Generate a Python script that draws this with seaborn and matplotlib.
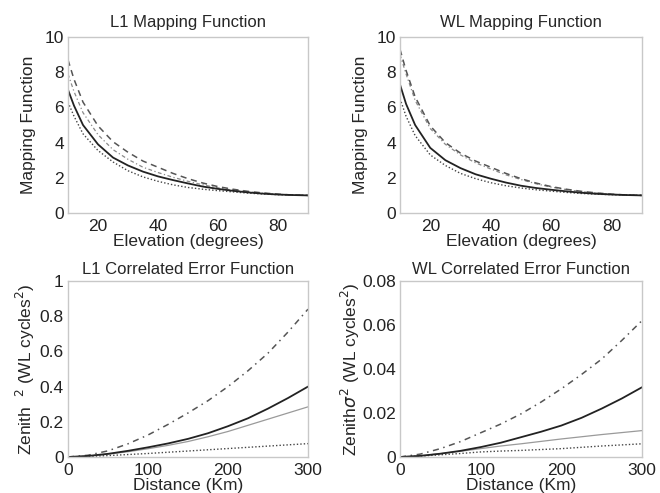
import matplotlib
matplotlib.use("Agg")
import matplotlib.pyplot as plt
import seaborn as sns
from matplotlib.ticker import FuncFormatter

# ---------------- data ----------------
elev = [10, 12, 15, 20, 25, 30, 35, 40, 45, 50, 55, 60, 65, 70, 75, 80, 85, 90]

l1_map_solid   = [7.0, 6.1, 5.0, 3.9, 3.15, 2.7, 2.35, 2.08, 1.87, 1.68, 1.5, 1.37, 1.26, 1.17, 1.1, 1.05, 1.02, 1.0]
l1_map_dash    = [8.7, 7.6, 6.3, 4.95, 4.05, 3.45, 2.95, 2.6, 2.25, 1.95, 1.7, 1.5, 1.35, 1.23, 1.14, 1.07, 1.02, 1.0]
l1_map_dashdot = [7.9, 6.9, 5.7, 4.45, 3.6, 3.05, 2.6, 2.3, 2.03, 1.8, 1.6, 1.43, 1.3, 1.2, 1.12, 1.06, 1.02, 1.0]
l1_map_dot     = [6.3, 5.5, 4.5, 3.55, 2.9, 2.4, 2.05, 1.8, 1.6, 1.45, 1.35, 1.27, 1.2, 1.13, 1.08, 1.04, 1.02, 1.0]

wl_map_solid   = [7.3, 6.2, 5.0, 3.7, 3.0, 2.55, 2.2, 1.95, 1.73, 1.55, 1.42, 1.32, 1.23, 1.15, 1.09, 1.05, 1.02, 1.0]
wl_map_dash    = [9.3, 8.1, 6.6, 4.95, 4.0, 3.4, 2.95, 2.6, 2.25, 1.95, 1.7, 1.5, 1.35, 1.23, 1.14, 1.07, 1.02, 1.0]
wl_map_dashdot = [9.0, 7.9, 6.4, 4.8, 3.9, 3.3, 2.85, 2.5, 2.17, 1.9, 1.66, 1.47, 1.33, 1.21, 1.13, 1.06, 1.02, 1.0]
wl_map_dot     = [6.5, 5.5, 4.4, 3.3, 2.7, 2.25, 1.95, 1.72, 1.55, 1.42, 1.32, 1.24, 1.17, 1.11, 1.07, 1.04, 1.02, 1.0]

dist = [0, 25, 50, 75, 100, 125, 150, 175, 200, 225, 250, 275, 300]

l1_err_solid = [0.0, 0.006, 0.018, 0.035, 0.055, 0.077, 0.103, 0.135, 0.175, 0.22, 0.275, 0.335, 0.40]
l1_err_dash  = [0.0, 0.01, 0.035, 0.075, 0.125, 0.185, 0.25, 0.32, 0.40, 0.49, 0.59, 0.71, 0.84]
l1_err_gray  = [0.0, 0.005, 0.016, 0.03, 0.047, 0.066, 0.088, 0.115, 0.145, 0.18, 0.215, 0.25, 0.285]
l1_err_dot   = [0.0, 0.003, 0.008, 0.014, 0.02, 0.027, 0.034, 0.041, 0.048, 0.055, 0.062, 0.069, 0.076]

wl_err_solid = [0.0, 0.0005, 0.0015, 0.0028, 0.0045, 0.0065, 0.009, 0.0115, 0.0143, 0.0178, 0.022, 0.0266, 0.0317]
wl_err_dash  = [0.0, 0.0013, 0.0038, 0.007, 0.011, 0.015, 0.0196, 0.025, 0.031, 0.0375, 0.0445, 0.053, 0.062]
wl_err_gray  = [0.0, 0.0006, 0.0015, 0.0026, 0.0038, 0.005, 0.006, 0.0071, 0.0082, 0.0092, 0.0102, 0.0111, 0.012]
wl_err_dot   = [0.0, 0.0004, 0.001, 0.0016, 0.0023, 0.0027, 0.003, 0.0034, 0.0038, 0.0044, 0.005, 0.0055, 0.006]

# ---------------- style ----------------
sns.set_style("white")
plt.rcParams["font.family"] = ["Liberation Sans", "DejaVu Sans"]
plt.rcParams["font.size"] = 12

fig = plt.figure(figsize=(6.6, 4.93), dpi=100)
W, H = 660, 493

def add_ax(l, t, r, b):
    return fig.add_axes([l / W, 1 - b / H, (r - l) / W, (b - t) / H])

ax_tl = add_ax(68, 37, 308, 213)
ax_tr = add_ax(400, 37, 642, 213)
ax_bl = add_ax(68, 281, 308, 457)
ax_br = add_ax(400, 281, 642, 457)

def draw(ax, x, solid, dash, mid, dot, dash_style, mid_style, mid_color):
    sns.lineplot(x=x, y=mid, ax=ax, color=mid_color, lw=0.9, linestyle=mid_style)
    sns.lineplot(x=x, y=dot, ax=ax, color="#444444", lw=1.0, linestyle=(0, (1, 1.5)))
    sns.lineplot(x=x, y=dash, ax=ax, color="#555555", lw=1.1, linestyle=dash_style)
    sns.lineplot(x=x, y=solid, ax=ax, color="#222222", lw=1.3, linestyle="-")

draw(ax_tl, elev, l1_map_solid, l1_map_dash, l1_map_dashdot, l1_map_dot,
     (0, (4, 3)), (0, (3, 2, 1, 2)), "#8a8a8a")
draw(ax_tr, elev, wl_map_solid, wl_map_dash, wl_map_dashdot, wl_map_dot,
     (0, (4, 3)), (0, (3, 2, 1, 2)), "#8a8a8a")
draw(ax_bl, dist, l1_err_solid, l1_err_dash, l1_err_gray, l1_err_dot,
     (0, (4, 3, 1, 3)), "-", "#9a9a9a")
draw(ax_br, dist, wl_err_solid, wl_err_dash, wl_err_gray, wl_err_dot,
     (0, (4, 3, 1, 3)), "-", "#9a9a9a")

def fmt(v, pos):
    return f"{v:.2f}".rstrip("0").rstrip(".")

LAB = 12.5
TICK = 12.5
TIT = 12

for ax in (ax_tl, ax_tr):
    ax.set_xlim(10, 90)
    ax.set_ylim(0, 10)
    ax.set_xticks([20, 40, 60, 80])
    ax.set_yticks([0, 2, 4, 6, 8, 10])
    ax.set_xlabel("Elevation (degrees)", fontsize=LAB, labelpad=0)
    ax.set_ylabel("Mapping Function", fontsize=LAB, labelpad=6)

ax_tl.set_title("L1 Mapping Function", fontsize=TIT, pad=7)
ax_tr.set_title("WL Mapping Function", fontsize=TIT, pad=7)

for ax in (ax_bl, ax_br):
    ax.set_xlim(0, 300)
    ax.set_xticks([0, 100, 200, 300])
    ax.set_xlabel("Distance (Km)", fontsize=LAB, labelpad=0)

ax_bl.set_ylim(0, 1)
ax_bl.set_yticks([0, 0.2, 0.4, 0.6, 0.8, 1.0])
ax_br.set_ylim(0, 0.08)
ax_br.set_yticks([0, 0.02, 0.04, 0.06, 0.08])
ax_bl.yaxis.set_major_formatter(FuncFormatter(fmt))
ax_br.yaxis.set_major_formatter(FuncFormatter(fmt))
ax_bl.set_ylabel("Zenith  $^2$ (WL cycles$^2$)", fontsize=LAB, labelpad=2)
ax_br.set_ylabel("Zenith$\\sigma^2$ (WL cycles$^2$)", fontsize=LAB, labelpad=0)
ax_bl.set_title("L1 Correlated Error Function", fontsize=TIT, pad=5)
ax_br.set_title("WL Correlated Error Function", fontsize=TIT, pad=5)

for ax in (ax_tl, ax_tr, ax_bl, ax_br):
    for sp in ax.spines.values():
        sp.set_color("#c8c8c8")
        sp.set_linewidth(1.0)
    ax.tick_params(axis="both", labelsize=TICK, length=0, pad=3, colors="#222222")
    ax.tick_params(axis="x", pad=4)

fig.savefig("out.png", dpi=100)
